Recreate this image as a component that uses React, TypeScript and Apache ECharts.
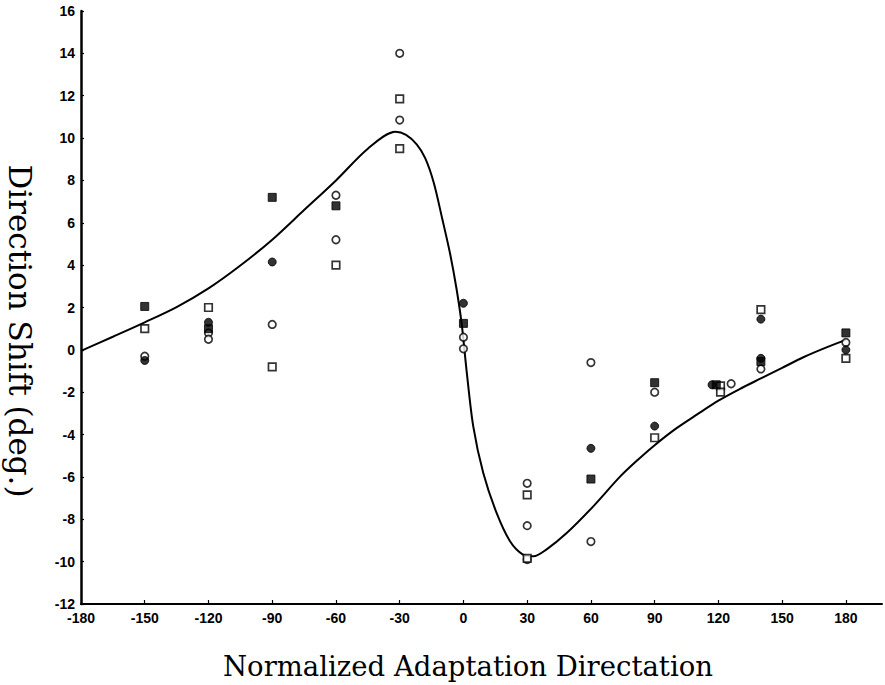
import React, { useEffect, useRef } from "react";
import * as echarts from "echarts";

// Tick values for both axes
const xTicks = [-180, -150, -120, -90, -60, -30, 0, 30, 60, 90, 120, 150, 180];
const yTicks = [-12, -10, -8, -6, -4, -2, 0, 2, 4, 6, 8, 10, 12, 14, 16];

// Measured direction shifts, grouped by marker type [direction, shift]
const openCircles: [number, number][] = [
  [-150, -0.3], [-120, 0.8], [-120, 0.5], [-90, 1.2], [-60, 7.3], [-60, 5.2],
  [-30, 14.0], [-30, 10.85], [0, 0.6], [0, 0.05], [30, -6.3], [30, -8.3],
  [30, -9.9], [60, -0.6], [60, -9.05], [90, -2.0], [126, -1.6], [140, -0.9],
  [180, 0.35],
];
const openSquares: [number, number][] = [
  [-150, 1.0], [-120, 2.0], [-90, -0.8], [-60, 4.0], [-30, 11.85], [-30, 9.5],
  [30, -6.85], [30, -9.85], [90, -4.15], [121, -1.7], [121, -2.0], [140, 1.9],
  [180, -0.4],
];
const filledCircles: [number, number][] = [
  [-150, -0.5], [-120, 1.3], [-90, 4.15], [0, 2.2], [60, -4.65], [90, -3.6],
  [117, -1.65], [140, 1.45], [140, -0.4], [180, 0.0],
];
const filledSquares: [number, number][] = [
  [-150, 2.05], [-120, 1.0], [-90, 7.2], [-60, 6.8], [0, 1.25], [60, -6.1],
  [90, -1.55], [119, -1.65], [140, -0.55], [180, 0.8],
];

// Fitted curve through the data
const fitCurve: [number, number][] = [
  [-180, -0.05], [-165, 0.62], [-150, 1.3], [-135, 2.02], [-120, 2.9], [-105, 3.98],
  [-90, 5.2], [-75, 6.6], [-60, 8.0], [-45, 9.5], [-32, 10.3], [-27, 10.15],
  [-22, 9.7], [-18, 9.05], [-14, 7.9], [-10, 6.2], [-6.3, 4.55], [-3.2, 2.85],
  [-0.8, 1.2], [1.5, -1.0], [4.6, -3.6], [9.3, -5.8], [15.6, -7.7], [22, -9.05],
  [28, -9.67], [33, -9.75], [39, -9.43], [48.6, -8.65], [61, -7.4], [73.6, -6.0],
  [82, -5.2], [90, -4.5], [100, -3.72], [110, -3.05], [120, -2.4], [130, -1.85],
  [140, -1.35], [150, -0.85], [160, -0.35], [170, 0.08], [180, 0.47],
];

const tickFont = {
  color: "#000",
  fontFamily: "Liberation Sans Narrow, Liberation Sans, Arial, sans-serif",
  fontWeight: "bold" as const,
  fontSize: 14,
};

export default function App() {
  const ref = useRef<HTMLDivElement>(null);

  useEffect(() => {
    if (!ref.current) return;
    const chart = echarts.init(ref.current, undefined, { renderer: "svg" });

    const openStyle = { color: "#fff", borderColor: "#000", borderWidth: 1.7 };
    const filledStyle = { color: "#000", borderColor: "#000", borderWidth: 1 };

    chart.setOption({
      animation: false,
      backgroundColor: "#fff",
      grid: { left: 81, right: 3, top: 11, bottom: 81 },
      xAxis: {
        type: "value",
        min: -180,
        max: 197,
        interval: 30,
        splitLine: { show: false },
        axisLine: { onZero: false, lineStyle: { color: "#000", width: 2 } },
        axisTick: {
          inside: true,
          length: 4,
          customValues: xTicks,
          lineStyle: { color: "#000", width: 1.2 },
        },
        axisLabel: { ...tickFont, margin: 7, customValues: xTicks },
      },
      yAxis: {
        type: "value",
        min: -12,
        max: 16,
        interval: 2,
        splitLine: { show: false },
        axisLine: { onZero: false, lineStyle: { color: "#000", width: 2.5 } },
        axisTick: {
          inside: true,
          length: 3,
          customValues: yTicks,
          lineStyle: { color: "#000", width: 1.2 },
        },
        axisLabel: { ...tickFont, margin: 6, customValues: yTicks },
      },
      graphic: [
        {
          type: "text",
          x: 468,
          y: 666,
          style: {
            text: "Normalized Adaptation Directation",
            fontFamily: "DejaVu Serif, serif",
            fontSize: 27.5,
            fill: "#000",
            align: "center",
            verticalAlign: "middle",
          },
        },
        {
          type: "text",
          x: 20,
          y: 331,
          rotation: -Math.PI / 2,
          style: {
            text: "Direction Shift (deg.)",
            fontFamily: "DejaVu Serif, serif",
            fontSize: 31,
            fill: "#000",
            align: "center",
            verticalAlign: "middle",
          },
        },
      ],
      series: [
        {
          type: "line",
          data: fitCurve,
          smooth: 0.3,
          showSymbol: false,
          lineStyle: { color: "#000", width: 2 },
          z: 1,
        },
        {
          type: "scatter",
          data: openCircles,
          symbol: "circle",
          symbolSize: 7.5,
          itemStyle: openStyle,
          z: 3,
        },
        {
          type: "scatter",
          data: openSquares,
          symbol: "rect",
          symbolSize: 7.5,
          itemStyle: openStyle,
          z: 3,
        },
        {
          type: "scatter",
          data: filledCircles,
          symbol: "circle",
          symbolSize: 8,
          itemStyle: filledStyle,
          z: 4,
        },
        {
          type: "scatter",
          data: filledSquares,
          symbol: "rect",
          symbolSize: 8,
          itemStyle: filledStyle,
          z: 4,
        },
      ],
    });

    return () => chart.dispose();
  }, []);

  return (
    <div
      ref={ref}
      style={{ position: "absolute", left: 0, top: 0, width: 885, height: 685 }}
    />
  );
}
